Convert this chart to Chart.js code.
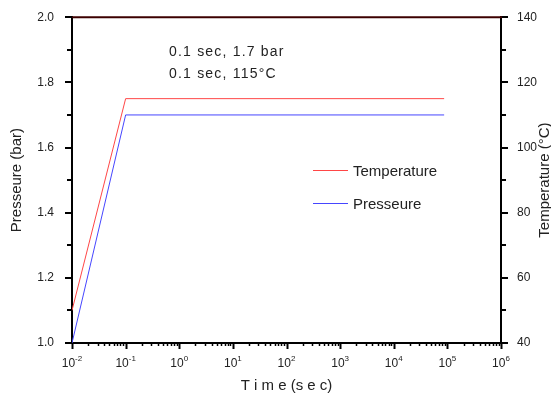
<!DOCTYPE html>
<html>
<head>
<meta charset="utf-8">
<script src="https://cdn.jsdelivr.net/npm/chart.js@4.4.1/dist/chart.umd.min.js"></script>
<style>
  html, body { margin: 0; padding: 0; background: #fff; }
  #wrap { width: 551px; height: 399px; }
</style>
</head>
<body>
<div id="wrap"><canvas id="myChart1" width="551" height="399"></canvas></div>
<script>
// time in seconds (log scale)
const timeSec = [0.01, 0.1, 8.7e4];
const pressureBar = [1.0, 1.7, 1.7];
const temperatureC = [50, 115, 115];

const decades = [-2, -1, 0, 1, 2, 3, 4, 5, 6];
const notes = ["0.1 sec, 1.7 bar", "0.1 sec, 115\u00B0C"];

const FONT = "'Liberation Sans', Arial, sans-serif";
const TXT = "#222";

const isPow10 = (v) => {
  const l = Math.log10(v);
  return Math.abs(l - Math.round(l)) < 1e-9;
};

const decor = {
  id: "decor",
  afterDraw(chart) {
    const ctx = chart.ctx;
    const a = chart.chartArea;
    const x = chart.scales.x;
    const yL = chart.scales.yL;
    const yR = chart.scales.yR;
    ctx.save();
    ctx.strokeStyle = "#000";

    // x ticks
    x.ticks.forEach((t) => {
      const px = Math.round(x.getPixelForValue(t.value)) + 0.5;
      const major = isPow10(t.value);
      ctx.lineWidth = major ? 2 : 1.5;
      ctx.beginPath();
      ctx.moveTo(px, a.bottom);
      ctx.lineTo(px, a.bottom + (major ? 6 : 3));
      ctx.stroke();
    });

    // left ticks
    yL.ticks.forEach((t) => {
      const py = Math.round(yL.getPixelForValue(t.value));
      const major = Math.round(t.value * 10) % 2 === 0;
      ctx.lineWidth = 2;
      ctx.beginPath();
      ctx.moveTo(a.left, py);
      ctx.lineTo(a.left - (major ? 7 : 5), py);
      ctx.stroke();
    });

    // right ticks
    yR.ticks.forEach((t) => {
      const py = Math.round(yR.getPixelForValue(t.value));
      const major = Math.round(t.value) % 20 === 0;
      ctx.lineWidth = 2;
      ctx.beginPath();
      ctx.moveTo(a.right, py);
      ctx.lineTo(a.right + (major ? 7 : 5), py);
      ctx.stroke();
    });

    // top frame
    ctx.strokeStyle = "#3c0000";
    ctx.lineWidth = 2;
    ctx.beginPath();
    ctx.moveTo(a.left, a.top);
    ctx.lineTo(a.right + 1, a.top);
    ctx.stroke();

    // x labels 10^n
    ctx.fillStyle = TXT;
    ctx.textBaseline = "alphabetic";
    ctx.textAlign = "left";
    decades.forEach((d) => {
      const px = x.getPixelForValue(Math.pow(10, d));
      const exp = d < 0 ? "-" + Math.abs(d) : String(d);
      ctx.font = "12px " + FONT;
      const w1 = ctx.measureText("10").width;
      ctx.font = "8px " + FONT;
      const w2 = ctx.measureText(exp).width;
      const sx = px - (w1 + w2) / 2;
      ctx.font = "12px " + FONT;
      ctx.fillText("10", sx, 367);
      ctx.font = "8px " + FONT;
      ctx.fillText(exp, sx + w1, 361);
    });

    // axis titles
    ctx.font = "15px " + FONT;
    ctx.textAlign = "center";
    ctx.textBaseline = "middle";
    ctx.fillText("T i m e (s e c)", (a.left + a.right) / 2, 386);

    ctx.save();
    ctx.translate(17, (a.top + a.bottom) / 2);
    ctx.rotate(-Math.PI / 2);
    ctx.fillText("Presseure (bar)", 0, 0);
    ctx.restore();

    ctx.save();
    ctx.translate(545, (a.top + a.bottom) / 2);
    ctx.rotate(-Math.PI / 2);
    ctx.fillText("Temperature (\u00B0C)", 0, 0);
    ctx.restore();

    // annotations
    ctx.textAlign = "left";
    ctx.textBaseline = "alphabetic";
    ctx.font = "14px " + FONT;
    ctx.letterSpacing = "1.2px";
    ctx.fillText(notes[0], 169, 56);
    ctx.fillText(notes[1], 169, 78);
    ctx.letterSpacing = "0px";

    // legend
    const legendRows = [
      { ds: chart.data.datasets[0], y: 170 },
      { ds: chart.data.datasets[1], y: 203 },
    ];
    ctx.font = "15px " + FONT;
    legendRows.forEach((r) => {
      ctx.strokeStyle = r.ds.borderColor;
      ctx.lineWidth = 1;
      ctx.beginPath();
      ctx.moveTo(313, r.y + 0.5);
      ctx.lineTo(348, r.y + 0.5);
      ctx.stroke();
      ctx.fillStyle = TXT;
      ctx.fillText(r.ds.label, 353, r.y + 6);
    });

    ctx.restore();
  },
};

const ctx = document.getElementById("myChart1").getContext("2d");

const data = {
  datasets: [
    {
      label: "Temperature",
      data: timeSec.map((t, i) => ({ x: t, y: temperatureC[i] })),
      yAxisID: "yR",
      borderColor: "#ff4646",
      borderWidth: 1,
      pointRadius: 0,
      fill: false,
      tension: 0,
    },
    {
      label: "Presseure",
      data: timeSec.map((t, i) => ({ x: t, y: pressureBar[i] })),
      yAxisID: "yL",
      borderColor: "#4646ff",
      borderWidth: 1,
      pointRadius: 0,
      fill: false,
      tension: 0,
    },
  ],
};

const config = {
  type: "line",
  data: data,
  options: {
    responsive: false,
    animation: false,
    layout: { padding: { top: 15, left: 0, right: 0, bottom: 0 } },
    plugins: { legend: { display: false }, tooltip: { enabled: false } },
    scales: {
      x: {
        type: "logarithmic",
        min: 0.01,
        max: 1e6,
        grid: { display: false },
        border: { display: true, color: "#000", width: 2 },
        ticks: { autoSkip: false, maxRotation: 0, callback: () => "" },
        afterBuildTicks: (scale) => {
          const ticks = [];
          decades.forEach((d) => {
            if (d === decades[decades.length - 1]) {
              ticks.push({ value: Math.pow(10, d) });
              return;
            }
            for (let m = 1; m <= 9; m++) ticks.push({ value: m * Math.pow(10, d) });
          });
          scale.ticks = ticks;
        },
        afterFit: (scale) => { scale.height = 56; },
      },
      yL: {
        type: "linear",
        position: "left",
        min: 1.0,
        max: 2.0,
        grid: { display: false },
        border: { display: true, color: "#000", width: 2 },
        ticks: {
          stepSize: 0.1,
          padding: 10,
          color: TXT,
          font: { family: FONT, size: 12 },
          callback: (v) => (Math.round(v * 10) % 2 === 0 ? Number(v).toFixed(1) : ""),
        },
        afterFit: (scale) => { scale.width = 72; },
      },
      yR: {
        type: "linear",
        position: "right",
        min: 40,
        max: 140,
        grid: { display: false },
        border: { display: true, color: "#000", width: 2 },
        ticks: {
          stepSize: 10,
          padding: 8,
          color: TXT,
          font: { family: FONT, size: 12 },
          callback: (v) => (Math.round(v) % 20 === 0 ? String(v) : ""),
        },
        afterFit: (scale) => { scale.width = 50; },
      },
    },
  },
  plugins: [decor],
};

const myLineChart = new Chart(ctx, config);
</script>
</body>
</html>
